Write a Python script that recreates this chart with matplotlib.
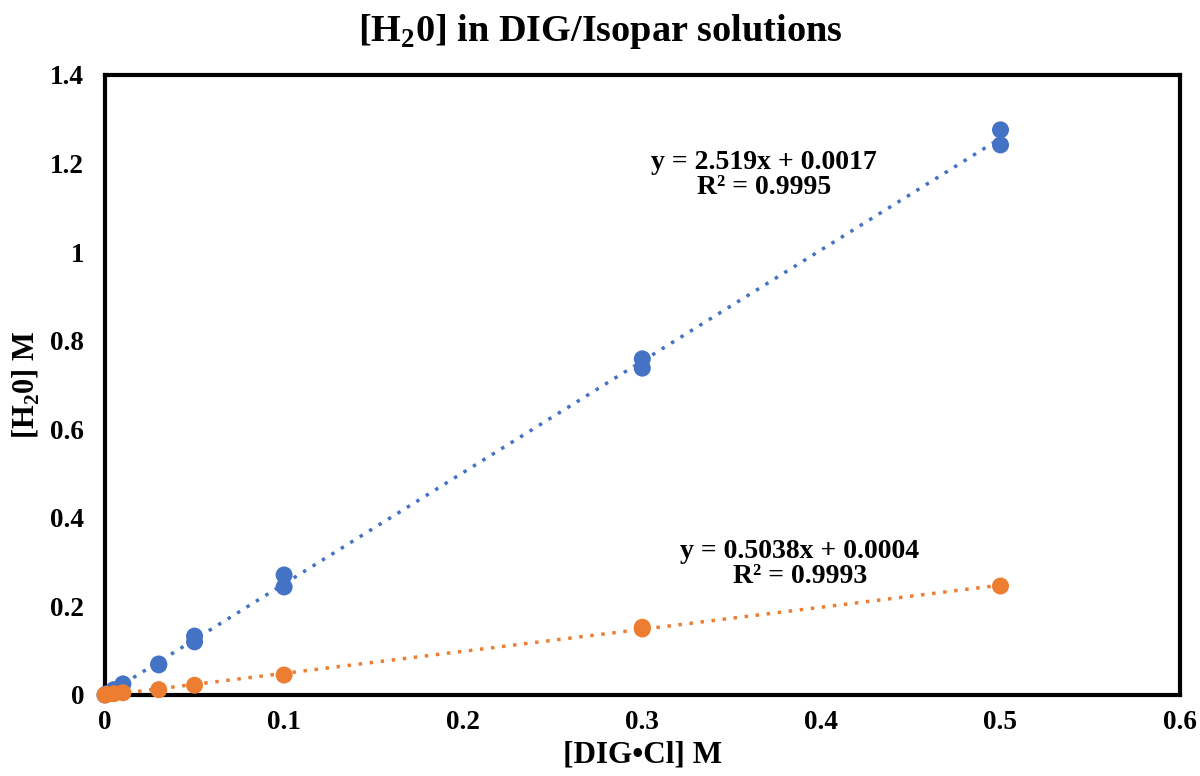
import numpy as np
import matplotlib
matplotlib.use("Agg")
import matplotlib.pyplot as plt

plt.rcParams['font.family'] = ['Liberation Serif', 'DejaVu Serif']
plt.rcParams['mathtext.fontset'] = 'custom'
plt.rcParams['mathtext.rm'] = 'Liberation Serif:bold'
plt.rcParams['mathtext.bf'] = 'Liberation Serif:bold'

x_blue = [0, 0.001, 0.005, 0.01, 0.03, 0.03, 0.05, 0.05, 0.1, 0.1, 0.3, 0.3, 0.5, 0.5]
y_blue = [0, 0.003, 0.012, 0.025, 0.070, 0.068, 0.133, 0.120, 0.271, 0.244, 0.759, 0.738, 1.276, 1.242]
x_orange = [0, 0.001, 0.005, 0.01, 0.03, 0.05, 0.1, 0.3, 0.3, 0.5]
y_orange = [0, 0.001, 0.003, 0.005, 0.012, 0.022, 0.045, 0.153, 0.149, 0.246]

eq_blue = ["y = 2.519x + 0.0017", "R² = 0.9995"]
eq_orange = ["y = 0.5038x + 0.0004", "R² = 0.9993"]

xticks = [0, 0.1, 0.2, 0.3, 0.4, 0.5, 0.6]
xticklabels = ["0", "0.1", "0.2", "0.3", "0.4", "0.5", "0.6"]
yticks = [0, 0.2, 0.4, 0.6, 0.8, 1.0, 1.2, 1.4]
yticklabels = ["0", "0.2", "0.4", "0.6", "0.8", "1", "1.2", "1.4"]

blue = "#4472C4"
orange = "#ED7D31"

fig = plt.figure(figsize=(12, 7.76), dpi=100)
ax = fig.add_axes([0.0875, 0.1044, 0.8955, 0.799])

for xs, ys, c in [(x_blue, y_blue, blue), (x_orange, y_orange, orange)]:
    m, b = np.polyfit(xs, ys, 1)
    xl = np.array([0, max(xs)])
    ax.plot(xl, m * xl + b, linestyle=(0, (1, 2.2)), color=c, lw=2.5, zorder=2)
    ax.scatter(xs, ys, s=150, color=c, zorder=3, edgecolors='none', clip_on=False)

ax.set_xlim(0, 0.6)
ax.set_ylim(0, 1.4)
ax.set_xticks(xticks)
ax.set_xticklabels(xticklabels)
ax.set_yticks(yticks)
ax.set_yticklabels(yticklabels)
ax.tick_params(length=0, labelsize=19.5)
ax.tick_params(axis='y', pad=15)
ax.tick_params(axis='x', pad=11)
for lab in ax.get_xticklabels() + ax.get_yticklabels():
    lab.set_fontweight('bold')
for s in ax.spines.values():
    s.set_linewidth(3)
    s.set_color('black')

ax.text(0.368, 1.174, "\n".join(eq_blue), ha='center', va='center', fontsize=20,
        fontweight='bold', linespacing=1.0)
ax.text(0.388, 0.296, "\n".join(eq_orange), ha='center', va='center', fontsize=20,
        fontweight='bold', linespacing=1.0)

ax.set_xlabel("[DIG•Cl] M", fontsize=22.5, fontweight='bold', labelpad=4)
ax.set_ylabel(r"[H$_2$0] M", fontsize=22, fontweight='bold', labelpad=6)
fig.suptitle(r"[H$_2$0] in DIG/Isopar solutions", fontsize=27.5, fontweight='bold', y=0.985)

fig.savefig("out.png", dpi=100)
